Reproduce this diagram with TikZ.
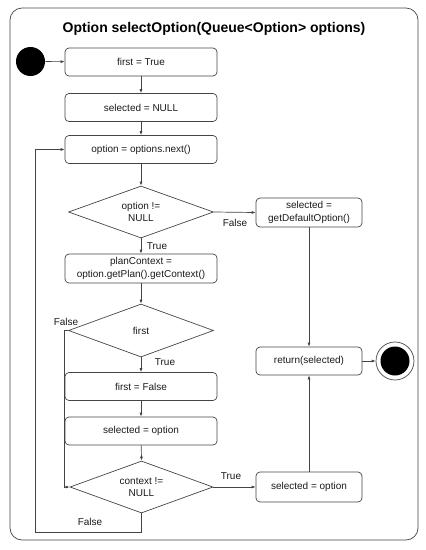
\documentclass[tikz,border=0pt]{standalone}
\usepackage{fontspec}
\setmainfont{Liberation Sans}
\usetikzlibrary{shapes.geometric, arrows.meta}

\definecolor{linegray}{HTML}{444444}
\definecolor{textgray}{HTML}{1A1A1A}

\tikzset{
  action/.style={draw=linegray, rounded corners=4pt, minimum width=152pt,
    minimum height=28pt, inner sep=2pt, align=center, text=textgray,
    font=\fontsize{10}{12.5}\selectfont},
  choice/.style={diamond, draw=linegray, aspect=2.8, minimum width=145pt,
    minimum height=52pt, inner sep=0pt, align=center, text=textgray,
    font=\fontsize{10}{12.5}\selectfont},
  guard/.style={text=textgray, font=\fontsize{10}{12}\selectfont},
  flow/.style={draw=linegray, line width=0.7pt, -{Latex[length=4pt,width=3pt]}}
}

\begin{document}
\begin{tikzpicture}[x=1pt, y=-1pt, line width=0.7pt]
  \useasboundingbox (0,0) rectangle (426,550);
  \draw[linegray, rounded corners=12pt] (10,8) rectangle (418,540);
  \node[font=\bfseries\fontsize{14}{16}\selectfont, text=black] (title) at (214,29)
    {Option selectOption(Queue<Option> options)};

  \node[circle, fill=black, minimum size=29pt, inner sep=0pt] (start) at (30.5,61.5) {};

  \node[action] (init)  at (141,62)    {first = True};
  \node[action] (reset) at (141,107.5) {selected = NULL};
  \node[action] (next)  at (141,149.5) {option = options.next()};
  \node[choice] (isnull) at (141,212)  {option !=\\NULL};
  \node[action, minimum width=106pt, minimum height=29pt] (default) at (309,212.5)
    {selected =\\getDefaultOption()};
  \node[action, minimum height=29pt] (plan) at (141,268.5)
    {planContext =\\option.getPlan().getContext()};
  \node[choice, minimum height=53pt] (isfirst) at (141,330.5) {first};
  \node[action] (unset) at (141,386.5) {first = False};
  \node[action] (keep)  at (141,431)   {selected = option};
  \node[choice, minimum width=143pt] (hasctx) at (141.5,487) {context !=\\NULL};
  \node[action, minimum width=106pt, minimum height=30pt] (take) at (309,487)
    {selected = option};
  \node[action, minimum width=106pt] (ret) at (309,361) {return(selected)};

  \node[circle, draw=linegray, minimum size=38pt, inner sep=0pt] (stop) at (395,361) {};
  \node[circle, fill=black, minimum size=29pt, inner sep=0pt] (stopdot) at (stop) {};

  \coordinate (loopcorner) at (35,532);

  \draw[flow] (start) -- (init);
  \draw[flow] (init) -- (reset);
  \draw[flow] (reset) -- (next);
  \draw[flow] (next) -- (isnull);
  \draw[flow] (isnull.east) -- (default.west);
  \draw[flow] (isnull.south) -- (plan.north);
  \draw[flow] (plan) -- (isfirst);
  \draw[flow] (isfirst.west) -- ++(-4,0) |- (hasctx.west);
  \draw[flow] (isfirst.south) -- (unset.north);
  \draw[flow] (unset) -- (keep);
  \draw[flow] (keep) -- (hasctx.north);
  \draw[flow] (hasctx.east) -- (take.west);
  \draw[flow] (hasctx.south) |- (loopcorner) |- (next.west);
  \draw[flow] (default.south) -- (ret.north);
  \draw[flow] (take.north) -- (ret.south);
  \draw[flow] (ret.east) -- (stop.west);

  \node[guard] (nullfalse)  at (235,223) {False};
  \node[guard] (nulltrue)   at (157,246) {True};
  \node[guard] (firstfalse) at (66,322)  {False};
  \node[guard] (firsttrue)  at (165,362) {True};
  \node[guard] (ctxtrue)    at (231,476) {True};
  \node[guard] (ctxfalse)   at (90,522)  {False};
\end{tikzpicture}
\end{document}
